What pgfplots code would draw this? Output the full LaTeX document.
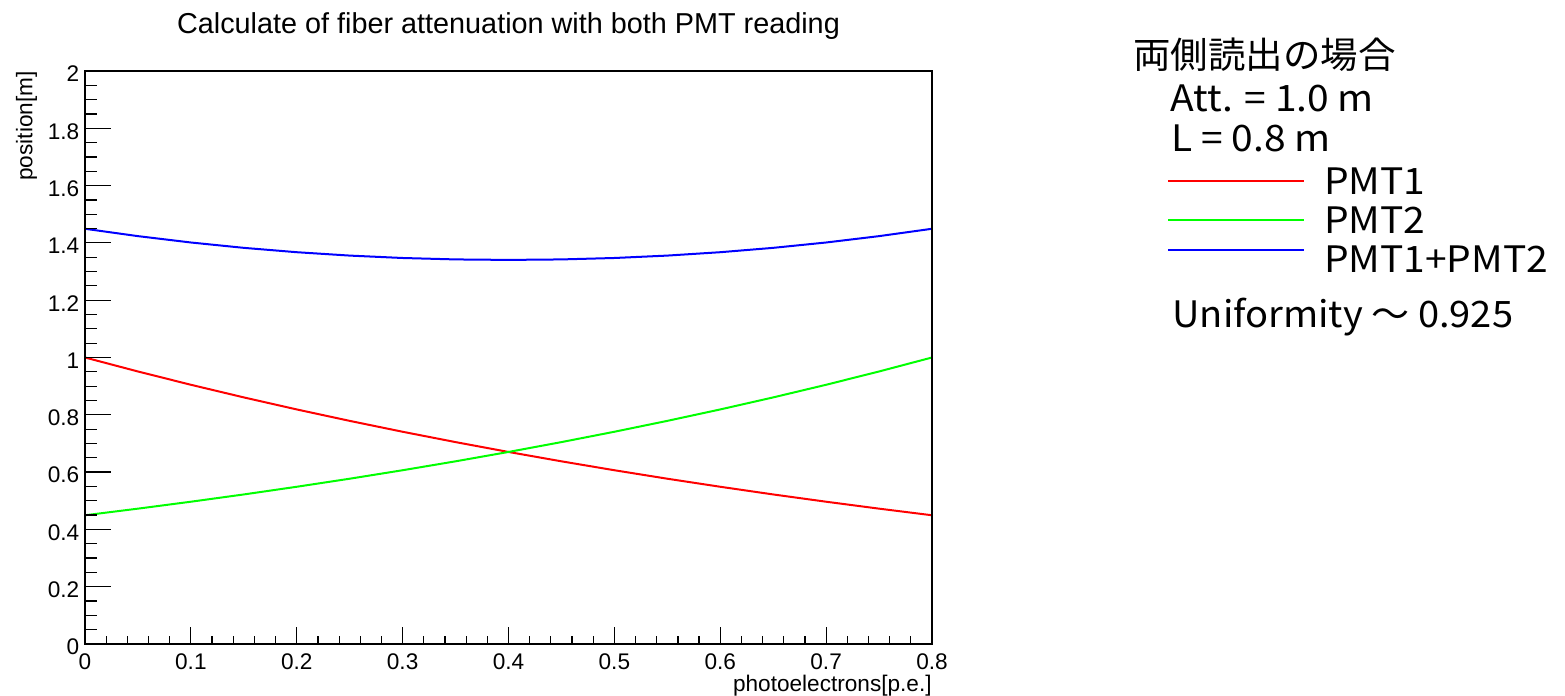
\documentclass[border=0pt]{standalone}
\usepackage{pgfplots}
\usepackage{pgfplotstable}
\pgfplotsset{compat=1.18}
\usepackage{fontspec}
\setmainfont{Liberation Sans}
\newfontfamily\cjk[FakeStretch=1.03]{Noto Sans CJK JP}
\newfontfamily\cjkmid[FakeStretch=1.045]{Noto Sans CJK JP}
\newfontfamily\cjkwide[FakeStretch=1.07]{Noto Sans CJK JP}

% Attenuation curves along the fiber (Att. = 1.0 m, L = 0.8 m)
\pgfplotstableread{
x     pmtone pmttwo sum
0.00  1.0000 0.4493 1.4493
0.05  0.9512 0.4724 1.4236
0.10  0.9048 0.4966 1.4014
0.15  0.8607 0.5220 1.3827
0.20  0.8187 0.5488 1.3675
0.25  0.7788 0.5769 1.3557
0.30  0.7408 0.6065 1.3473
0.35  0.7047 0.6376 1.3423
0.40  0.6703 0.6703 1.3406
0.45  0.6376 0.7047 1.3423
0.50  0.6065 0.7408 1.3473
0.55  0.5769 0.7788 1.3557
0.60  0.5488 0.8187 1.3675
0.65  0.5220 0.8607 1.3827
0.70  0.4966 0.9048 1.4014
0.75  0.4724 0.9512 1.4236
0.80  0.4493 1.0000 1.4493
}\fibertable

\pgfplotsset{
  frame/.style={
    at={(42.5pt,26pt)}, anchor=south west,
    scale only axis, width=423.5pt, height=286.5pt,
    xmin=0, xmax=0.8, ymin=0, ymax=2,
    tick align=inside,
    axis line style={line width=0.6pt},
    every tick/.style={black, line width=0.6pt},
    /pgf/number format/assume math mode=true,
    tick label style={font=\fontsize{11.3}{13}\selectfont, inner sep=0pt},
  },
}

\begin{document}
\begin{tikzpicture}
\useasboundingbox (0,0) rectangle (782.5pt,348pt);

% horizontal ticks, curves, titles and legend
\begin{axis}[
  frame,
  xtick={0,0.1,0.2,0.3,0.4,0.5,0.6,0.7,0.8},
  minor x tick num=4,
  xtick pos=lower,
  ytick=\empty,
  major tick length=8.5pt, minor tick length=4pt,
  xticklabel style={anchor=north, yshift=-4.8pt},
  every axis title shift=0pt,
  title={Calculate of fiber attenuation with both PMT reading},
  title style={at={(axis description cs:0.5,1.0663)}, anchor=base,
    yshift=0pt, inner sep=0pt, font=\fontsize{14.4}{16}\selectfont},
  xlabel={photoelectrons[p.e.]},
  xlabel style={at={(axis description cs:1,-0.0825)}, anchor=base east,
    inner sep=0pt, font=\fontsize{11.3}{13}\selectfont},
  ylabel={position[m]},
  ylabel style={at={(axis description cs:-0.062,1)}, anchor=base east,
    inner sep=0pt, font=\fontsize{11.3}{13}\selectfont},
  legend style={draw=none, fill=none, inner sep=0pt, outer sep=0pt,
    at={(axis description cs:1.2775,0.8382)}, anchor=north west,
    cells={anchor=base west, inner sep=0pt},
    row sep={19.6pt,between origins}, column sep=0pt,
    font=\cjkwide\fontsize{18.2}{20}\selectfont},
  legend image code/.code={\path[draw=none] (0pt,0pt) -- (76pt,0pt);
    \draw[#1] (0pt,6.6pt) -- (68pt,6.6pt);},
]
\addplot[red, line width=1pt] table[x=x, y=pmtone] {\fibertable};
\addlegendentry{PMT1}
\addplot[green, line width=1pt] table[x=x, y=pmttwo] {\fibertable};
\addlegendentry{PMT2}
\addplot[blue, line width=1pt,
  legend image code/.code={\path[draw=none] (0pt,0pt) -- (76pt,0pt);
    \draw[blue, line width=1pt] (0pt,11.4pt) -- (68pt,11.4pt);}]
  table[x=x, y=sum] {\fibertable};
\addlegendentry{PMT1+PMT2}
\end{axis}

% vertical ticks
\begin{axis}[
  frame,
  xtick=\empty,
  ytick={0,0.2,0.4,0.6,0.8,1,1.2,1.4,1.6,1.8,2},
  minor y tick num=3,
  ytick pos=left,
  major tick length=13pt, minor tick length=6pt,
  yticklabel style={anchor=east, xshift=-2.7pt, yshift=-1.5pt},
]
\end{axis}

% parameters of the two-sided readout
\begin{scope}[every node/.style={inner sep=0pt, anchor=base west}]
  \node[font=\cjk\fontsize{18.2}{20}\selectfont] at (566.5pt,313.7pt) {両側読出の場合};
  \node[font=\cjkwide\fontsize{18.2}{20}\selectfont] at (585pt,292.2pt) {Att. = 1.0 m};
  \node[font=\cjkwide\fontsize{18.2}{20}\selectfont] at (585.5pt,272.2pt) {L = 0.8 m};
  \node[font=\cjkmid\fontsize{18.2}{20}\selectfont] at (586pt,184.2pt) {Uniformity 〜 0.925};
\end{scope}
\end{tikzpicture}
\end{document}
